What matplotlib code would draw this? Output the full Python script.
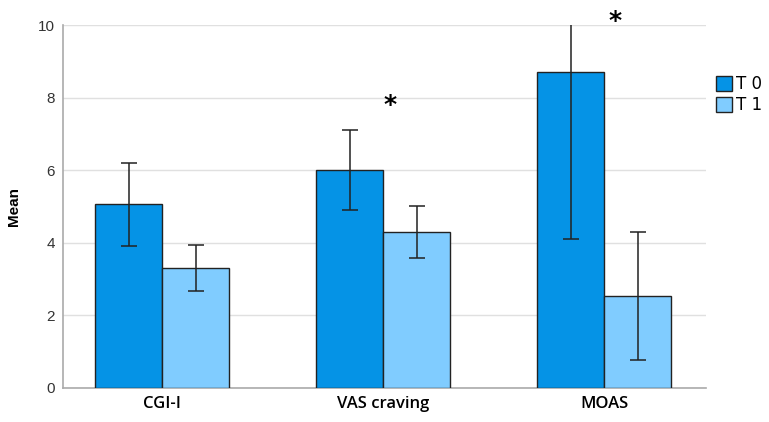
import numpy as np
import matplotlib.pyplot as plt

categories = ['CGI-I', 'VAS craving', 'MOAS']
t0_mean = [5.06, 6.0, 8.70]
t0_low = [3.92, 4.90, 4.10]
t0_high = [6.20, 7.10, 10.02]
t1_mean = [3.30, 4.30, 2.54]
t1_low = [2.66, 3.57, 0.77]
t1_high = [3.94, 5.02, 4.31]
series = ['T 0', 'T 1']

x = np.arange(len(categories))
w = 0.303

fig = plt.figure(figsize=(7.69, 4.22), dpi=100)
ax = fig.add_axes([0.082, 0.0806, 0.836, 0.86])

err0 = [np.array(t0_mean) - np.array(t0_low), np.array(t0_high) - np.array(t0_mean)]
err1 = [np.array(t1_mean) - np.array(t1_low), np.array(t1_high) - np.array(t1_mean)]
ekw = dict(ecolor='#222222', elinewidth=1.1, capthick=1.1)
ax.bar(x - w/2, t0_mean, w, color='#0593e6', edgecolor='#222222', linewidth=1.0,
       yerr=err0, capsize=6, error_kw=ekw, label=series[0], zorder=3)
ax.bar(x + w/2, t1_mean, w, color='#80ccff', edgecolor='#222222', linewidth=1.0,
       yerr=err1, capsize=6, error_kw=ekw, label=series[1], zorder=3)

# significance marks
ax.text(1.03, 7.8, '*', fontsize=18, fontweight='bold', ha='center', va='center')
ax.text(2.05, 10.1, '*', fontsize=18, fontweight='bold', ha='center', va='center', clip_on=False)

ax.set_xlim(-0.448, 2.46)
ax.set_ylim(0, 10)
ax.set_yticks([0, 2, 4, 6, 8, 10])
ax.yaxis.grid(True, color='#e0e0e0', linewidth=1.0, zorder=0)
ax.set_axisbelow(True)
ax.set_xticks(x)
ax.set_xticklabels(categories, fontsize=12, fontweight='semibold', family='Open Sans')
for lbl in ax.get_yticklabels():
    lbl.set_family('Liberation Sans')
ax.tick_params(axis='both', length=0)
ax.tick_params(axis='y', labelsize=11, labelcolor='#333333', pad=6)
ax.tick_params(axis='x', pad=6)
ax.set_ylabel('Mean', fontsize=11, fontweight='bold', labelpad=12, family='Liberation Sans')
for s in ['top', 'right']:
    ax.spines[s].set_visible(False)
ax.spines['left'].set_color('#aaaaaa')
ax.spines['left'].set_linewidth(1.2)
ax.spines['bottom'].set_color('#aaaaaa')
ax.spines['bottom'].set_linewidth(1.2)

ax.legend(loc='upper left', bbox_to_anchor=(1.005, 0.88), frameon=False,
          fontsize=12, handlelength=1.0, handleheight=1.0, handletextpad=0.2,
          labelspacing=0.15, borderaxespad=0)

fig.savefig('out.png', dpi=100)
